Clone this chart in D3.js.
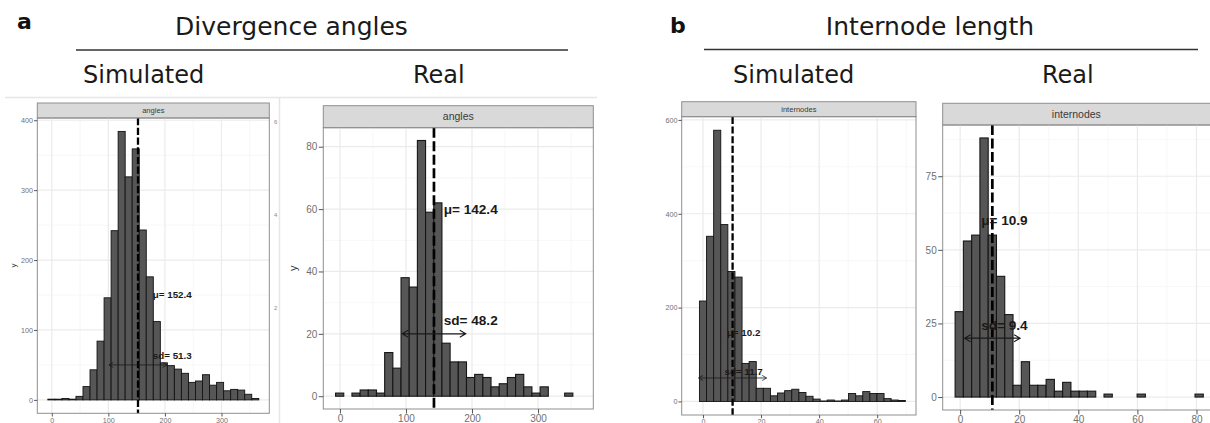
<!DOCTYPE html>
<html>
<head>
<meta charset="utf-8">
<script src="https://cdn.jsdelivr.net/npm/d3@7"></script>
<style>
  body { margin: 0; background: #fff; }
  svg { display: block; overflow: hidden; }
</style>
</head>
<body>
<div id="figure"></div>
<script>
// Histogram counts (30 bins per panel)
var simAnglesCounts = [1, 1, 2, 1, 5, 19, 43, 84, 146, 242, 384, 319, 359, 243, 176,
  112, 53, 49, 44, 38, 25, 27, 36, 21, 25, 13, 15, 14, 8, 2];
var realAnglesCounts = [1, 0, 1, 2, 2, 1, 14, 9, 38, 35, 82, 59, 62, 17, 11,
  11, 6, 7, 6, 3, 4, 6, 7, 3, 1, 3, 0, 0, 1, 0];
var simInternodeCounts = [0, 214, 352, 578, 377, 277, 265, 81, 85, 28, 28, 12, 18, 23, 26,
  19, 11, 5, 1, 3, 1, 3, 17, 12, 21, 17, 17, 6, 3, 2];
var realInternodeCounts = [29, 53, 55, 88, 55, 41, 28, 4, 12, 4, 4, 6, 2, 5, 2,
  2, 2, 0, 1, 0, 0, 0, 1, 0, 0, 0, 0, 0, 0, 1];

// first bin edge, bin width
var simAnglesBins = [-7, 12.43];
var realAnglesBins = [-6.6, 12.39];
var simInternodeBins = [-3.66, 2.445];
var realInternodeBins = [-1.7, 2.8];

// mean, sd
var simAnglesStats = [152.4, 51.3];
var realAnglesStats = [142.4, 48.2];
var simInternodeStats = [10.2, 11.7];
var realInternodeStats = [10.9, 9.4];

// annotation anchors in data units: [label x, mu label y, sd label y, arrow y]
var simAnglesNotes = [213, 150, 63, 50];
var realAnglesNotes = [198, 60, 24.5, 20];
var simInternodeNotes = [14, 147, 63, 50];
var realInternodeNotes = [15, 60, 24.5, 20];

// tick labels
var angleXTicks = [0, 100, 200, 300];
var simAnglesYTicks = [0, 100, 200, 300, 400];
var realAnglesYTicks = [0, 20, 40, 60, 80];
var simInternodeXTicks = [0, 20, 40, 60];
var realInternodeXTicks = [0, 20, 40, 60, 80];
var simInternodeYTicks = [0, 200, 400, 600];
var realInternodeYTicks = [0, 25, 50, 75];

// stray axis of the picture lying under panel a
var ghostTicks = [2, 4, 6];

var svgWidth = 1210;
var svgHeight = 423;

var svg = d3.select("#figure")
  .append("svg")
  .attr("width", svgWidth)
  .attr("height", svgHeight);

var headFont = "'DejaVu Sans', sans-serif";
var plotFont = "'Liberation Sans', Arial, sans-serif";

// headings for both halves
function heading(letter, letterX, letterY, title, titleX, lineX0, lineX1, lineY, simX, realX) {
  svg.append("text")
    .attr("x", letterX).attr("y", letterY)
    .attr("font-family", headFont).attr("font-weight", "bold")
    .attr("font-size", 22).attr("fill", "#111")
    .text(letter);
  svg.append("text")
    .attr("x", titleX).attr("y", 35)
    .attr("text-anchor", "middle")
    .attr("font-family", headFont).attr("font-size", 25).attr("fill", "#1a1a1a")
    .text(title);
  svg.append("line")
    .attr("x1", lineX0).attr("x2", lineX1)
    .attr("y1", lineY).attr("y2", lineY)
    .attr("stroke", "#333").attr("stroke-width", 1.6);
  svg.append("text")
    .attr("x", simX).attr("y", 83)
    .attr("font-family", headFont).attr("font-size", 24).attr("fill", "#1a1a1a")
    .text("Simulated");
  svg.append("text")
    .attr("x", realX).attr("y", 83)
    .attr("font-family", headFont).attr("font-size", 24).attr("fill", "#1a1a1a")
    .text("Real");
}

heading("a", 17, 29, "Divergence angles", 291.5, 76, 568, 50, 83, 413);
heading("b", 670, 33, "Internode length", 930, 704, 1198, 49.5, 733, 1042);

// faint frame of the pasted screenshot in panel a
svg.append("line")
  .attr("x1", 5).attr("x2", 597).attr("y1", 97.5).attr("y2", 97.5)
  .attr("stroke", "#e6e6e6").attr("stroke-width", 1.5);
svg.append("line")
  .attr("x1", 279.5).attr("x2", 279.5).attr("y1", 97).attr("y2", 423)
  .attr("stroke", "#e6e6e6").attr("stroke-width", 1.5);

var ghostScale = d3.scaleLinear().domain([2, 6]).range([308, 121.7]);
svg.selectAll(".ghost")
  .data(ghostTicks)
  .enter()
  .append("text")
  .attr("x", 274)
  .attr("y", d => ghostScale(d))
  .attr("dy", "0.35em")
  .attr("font-family", plotFont).attr("font-size", 6).attr("fill", "#888")
  .text(d => d);

// one ggplot-like histogram panel
function drawPanel(p) {
  var k = p.k;
  var n = p.counts.length;
  var lo = p.bins[0];
  var hi = p.bins[0] + n * p.bins[1];
  var xPad = (hi - lo) * 0.05;
  var yMax = d3.max(p.counts);

  var xScale = d3.scaleLinear()
    .domain([lo - xPad, hi + xPad])
    .range([p.left, p.right]);
  var yScale = d3.scaleLinear()
    .domain([-yMax * 0.05, yMax * 1.05])
    .range([p.bottom, p.top]);

  var g = svg.append("g");

  // strip
  g.append("rect")
    .attr("x", p.left).attr("y", p.stripTop)
    .attr("width", p.right - p.left).attr("height", p.top - p.stripTop)
    .attr("fill", "#d9d9d9").attr("stroke", "#8f8f8f").attr("stroke-width", 1);
  g.append("text")
    .attr("x", (p.left + Math.min(p.right, svgWidth + 5)) / 2 - (p.right > svgWidth ? 2.5 : 0))
    .attr("y", (p.stripTop + p.top) / 2)
    .attr("dy", "0.35em")
    .attr("text-anchor", "middle")
    .attr("font-family", plotFont).attr("font-size", 10.5 * k).attr("fill", "#3a3a3a")
    .text(p.strip);

  // grid, minor then major
  function minors(ticks, domain) {
    var step = ticks[1] - ticks[0];
    var out = [];
    for (var v = ticks[0] - step / 2; v <= domain[1]; v += step) {
      if (v >= domain[0]) out.push(v);
    }
    return out;
  }
  var grid = g.append("g");
  grid.selectAll(".vminor").data(minors(p.xTicks, xScale.domain())).enter()
    .append("line")
    .attr("x1", d => xScale(d)).attr("x2", d => xScale(d))
    .attr("y1", p.top).attr("y2", p.bottom)
    .attr("stroke", "#f3f3f3").attr("stroke-width", 0.7);
  grid.selectAll(".hminor").data(minors(p.yTicks, yScale.domain())).enter()
    .append("line")
    .attr("x1", p.left).attr("x2", p.right)
    .attr("y1", d => yScale(d)).attr("y2", d => yScale(d))
    .attr("stroke", "#f3f3f3").attr("stroke-width", 0.7);
  grid.selectAll(".vmajor").data(p.xTicks).enter()
    .append("line")
    .attr("x1", d => xScale(d)).attr("x2", d => xScale(d))
    .attr("y1", p.top).attr("y2", p.bottom)
    .attr("stroke", "#ebebeb").attr("stroke-width", 1.2);
  grid.selectAll(".hmajor").data(p.yTicks).enter()
    .append("line")
    .attr("x1", p.left).attr("x2", p.right)
    .attr("y1", d => yScale(d)).attr("y2", d => yScale(d))
    .attr("stroke", "#ebebeb").attr("stroke-width", 1.2);

  // bars
  g.selectAll(".bar")
    .data(p.counts)
    .enter()
    .append("rect")
    .attr("x", (d, i) => xScale(lo + i * p.bins[1]))
    .attr("width", (d, i) => xScale(lo + (i + 1) * p.bins[1]) - xScale(lo + i * p.bins[1]))
    .attr("y", d => yScale(d))
    .attr("height", d => yScale(0) - yScale(d))
    .attr("fill", "#565656")
    .attr("stroke", "#161616")
    .attr("stroke-width", 1.1 * Math.sqrt(k));

  // mean line
  g.append("line")
    .attr("x1", xScale(p.stats[0])).attr("x2", xScale(p.stats[0]))
    .attr("y1", p.top).attr("y2", p.bottom)
    .attr("stroke", "#000")
    .attr("stroke-width", 2.7 * Math.sqrt(k))
    .attr("stroke-dasharray", (10 * k) + "," + (3.5 * k));

  // sd arrow, open heads on both ends
  var ax0 = xScale(p.stats[0] - p.stats[1]);
  var ax1 = xScale(p.stats[0] + p.stats[1]);
  var ay = yScale(p.notes[3]);
  var hl = 6 * k, hw = 3.5 * k;
  g.append("path")
    .attr("d", `M${ax0},${ay}H${ax1}M${ax0 + hl},${ay - hw}L${ax0},${ay}L${ax0 + hl},${ay + hw}` +
      `M${ax1 - hl},${ay - hw}L${ax1},${ay}L${ax1 - hl},${ay + hw}`)
    .attr("fill", "none")
    .attr("stroke", "#1a1a1a")
    .attr("stroke-width", 1.1 * k);

  // labels
  g.append("text")
    .attr("x", xScale(p.notes[0])).attr("y", yScale(p.notes[1]))
    .attr("dy", "0.35em").attr("text-anchor", "middle")
    .attr("font-family", plotFont).attr("font-weight", "bold")
    .attr("font-size", 13.6 * k).attr("fill", "#1a1a1a")
    .text("\u03bc= " + p.stats[0]);
  g.append("text")
    .attr("x", xScale(p.notes[0])).attr("y", yScale(p.notes[2]))
    .attr("dy", "0.35em").attr("text-anchor", "middle")
    .attr("font-family", plotFont).attr("font-weight", "bold")
    .attr("font-size", 13.6 * k).attr("fill", "#1a1a1a")
    .text("sd= " + p.stats[1]);

  // panel border
  g.append("rect")
    .attr("x", p.left).attr("y", p.top)
    .attr("width", p.right - p.left).attr("height", p.bottom - p.top)
    .attr("fill", "none").attr("stroke", "#8f8f8f").attr("stroke-width", 1);

  // axes
  var xAxis = g.append("g")
    .attr("transform", `translate(0, ${p.bottom})`)
    .call(d3.axisBottom(xScale).tickValues(p.xTicks).tickSize(4.5 * k).tickPadding(1));
  var yAxis = g.append("g")
    .attr("transform", `translate(${p.left}, 0)`)
    .call(d3.axisLeft(yScale).tickValues(p.yTicks).tickSize(4.5 * k).tickPadding(1.5 * k));
  [xAxis, yAxis].forEach(function(ax) {
    ax.select(".domain").remove();
    ax.selectAll("line").attr("stroke", "#555");
    ax.selectAll("text")
      .attr("font-family", plotFont)
      .attr("font-size", 10 * k)
      .attr("fill", "#707070");
  });

  if (p.yTitleX) {
    g.append("text")
      .attr("transform", `translate(${p.yTitleX}, ${(p.top + p.bottom) / 2}) rotate(-90)`)
      .attr("dy", "0.35em")
      .attr("text-anchor", "middle")
      .attr("font-family", plotFont).attr("font-size", 11 * k).attr("fill", "#333")
      .text("y");
  }
}

drawPanel({
  counts: simAnglesCounts, bins: simAnglesBins, stats: simAnglesStats, notes: simAnglesNotes,
  xTicks: angleXTicks, yTicks: simAnglesYTicks, strip: "angles",
  left: 37.3, right: 269.3, stripTop: 103, top: 118, bottom: 413.3, k: 0.72, yTitleX: 13.3
});
drawPanel({
  counts: realAnglesCounts, bins: realAnglesBins, stats: realAnglesStats, notes: realAnglesNotes,
  xTicks: angleXTicks, yTicks: realAnglesYTicks, strip: "angles",
  left: 323.3, right: 593.3, stripTop: 105.7, top: 127.7, bottom: 409, k: 1, yTitleX: 292.7
});
drawPanel({
  counts: simInternodeCounts, bins: simInternodeBins, stats: simInternodeStats, notes: simInternodeNotes,
  xTicks: simInternodeXTicks, yTicks: simInternodeYTicks, strip: "internodes",
  left: 681.7, right: 916, stripTop: 101.7, top: 116.7, bottom: 415, k: 0.72
});
drawPanel({
  counts: realInternodeCounts, bins: realInternodeBins, stats: realInternodeStats, notes: realInternodeNotes,
  xTicks: realInternodeXTicks, yTicks: realInternodeYTicks, strip: "internodes",
  left: 942.7, right: 1215.7, stripTop: 103.3, top: 125, bottom: 410, k: 1
});
</script>
</body>
</html>
